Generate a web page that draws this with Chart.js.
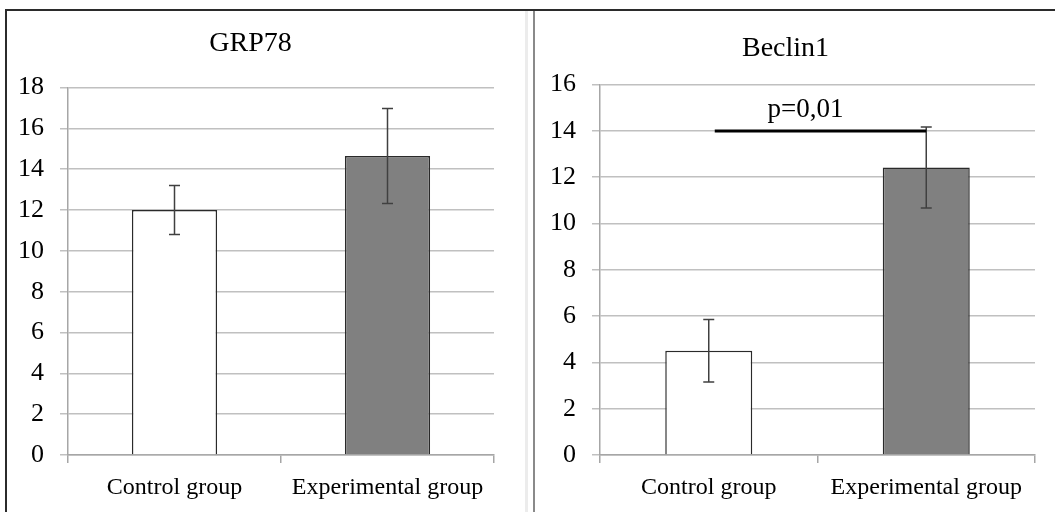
<!DOCTYPE html>
<html>
<head>
<meta charset="utf-8">
<script src="https://cdn.jsdelivr.net/npm/chart.js@4.4.0/dist/chart.umd.min.js"></script>
<style>
  body { margin: 0; background: #fff; width: 1055px; height: 512px; overflow: hidden; position: relative; }
  .line { position: absolute; }
  #frameTop { left: 5px; top: 9px; width: 1050px; height: 2px; background: #2b2b2b; }
  #frameLeft { left: 5px; top: 9px; width: 2px; height: 503px; background: #2b2b2b; }
  #frameSplit { left: 525px; top: 11px; width: 3px; height: 501px; background: #ececec; }
  #frameRight { left: 533px; top: 11px; width: 2px; height: 501px; background: #8a8a8a; }
  .panel { position: absolute; top: 12px; }
  #panel1 { left: 7px; }
  #panel2 { left: 536px; }
</style>
</head>
<body>
<div class="line" id="frameTop"></div>
<div class="line" id="frameLeft"></div>
<div class="line" id="frameSplit"></div>
<div class="line" id="frameRight"></div>
<div class="panel" id="panel1"><canvas id="grpChart" width="511" height="500"></canvas></div>
<div class="panel" id="panel2"><canvas id="beclinChart" width="519" height="500"></canvas></div>
<script>
const categories = ['Control group', 'Experimental group'];

const grpMean = [12.0, 14.65];
const grpErr = [1.2, 2.33];

const beclinMean = [4.5, 12.42];
const beclinErr = [1.35, 1.75];

// significance bracket on Beclin1: between the two groups at 14
const sigPair = [0, 1];
const sigLevel = 14;
const sigText = 'p=0,01';

const serif = '"Liberation Serif", "Times New Roman", serif';
const barFills = ['#ffffff', '#808080'];

const errorBars = {
  id: 'errorBars',
  afterDatasetsDraw(chart, args, opts) {
    const meta = chart.getDatasetMeta(0);
    const y = chart.scales.y;
    const ctx = chart.ctx;
    ctx.save();
    ctx.strokeStyle = '#404040';
    ctx.lineWidth = 1.5;
    meta.data.forEach((bar, i) => {
      const v = chart.data.datasets[0].data[i];
      const top = y.getPixelForValue(v + opts.errors[i]);
      const bot = y.getPixelForValue(v - opts.errors[i]);
      ctx.beginPath();
      ctx.moveTo(bar.x, top); ctx.lineTo(bar.x, bot);
      ctx.moveTo(bar.x - 5.5, top); ctx.lineTo(bar.x + 5.5, top);
      ctx.moveTo(bar.x - 5.5, bot); ctx.lineTo(bar.x + 5.5, bot);
      ctx.stroke();
    });
    ctx.restore();
  }
};

const sigMark = {
  id: 'sigMark',
  afterDatasetsDraw(chart, args, opts) {
    if (!opts.text) return;
    const x = chart.scales.x, y = chart.scales.y;
    const ctx = chart.ctx;
    const x0 = x.getPixelForValue(opts.pair[0]) + 6;
    const x1 = x.getPixelForValue(opts.pair[1]);
    const yy = y.getPixelForValue(opts.level);
    ctx.save();
    ctx.strokeStyle = '#000';
    ctx.lineWidth = 3;
    ctx.beginPath();
    ctx.moveTo(x0, yy); ctx.lineTo(x1, yy);
    ctx.stroke();
    ctx.fillStyle = '#000';
    ctx.font = '27px ' + serif;
    ctx.textAlign = 'center';
    ctx.textBaseline = 'alphabetic';
    ctx.fillText(opts.text, (x0 + x1) / 2 - 15, yy - 14);
    ctx.restore();
  }
};

function makeChart(id, title, means, errs, max, layout, sig) {
  return new Chart(document.getElementById(id), {
    type: 'bar',
    data: {
      labels: categories,
      datasets: [{
        data: means,
        backgroundColor: barFills,
        borderColor: '#2a2a2a',
        borderWidth: 1.5,
        barPercentage: 0.4,
        categoryPercentage: 1.0
      }]
    },
    options: {
      responsive: false,
      animation: false,
      layout: { padding: { left: 0, right: layout.right, top: 0, bottom: 0 } },
      plugins: {
        legend: { display: false },
        tooltip: { enabled: false },
        title: {
          display: true,
          text: title,
          color: '#000',
          font: { family: serif, size: 28, weight: 'normal' },
          padding: { top: layout.titleTop, bottom: layout.titleBottom }
        },
        errorBars: { errors: errs },
        sigMark: sig || {}
      },
      scales: {
        x: {
          afterFit: s => { s.height = 57; },
          grid: { offset: true, drawOnChartArea: false, tickLength: 8, color: '#a6a6a6', lineWidth: 1.5 },
          border: { color: '#a6a6a6', width: 1.5 },
          ticks: { color: '#000', padding: 10, font: { family: serif, size: 24 } }
        },
        y: {
          min: 0, max: max,
          afterFit: s => { s.width = layout.yWidth; },
          grid: { color: '#c0c0c0', lineWidth: 1.5, tickLength: 8 },
          border: { color: '#a6a6a6', width: 1.5 },
          ticks: { stepSize: 2, color: '#000', padding: 16, font: { family: serif, size: 26 } }
        }
      }
    },
    plugins: [errorBars, sigMark]
  });
}

makeChart('grpChart', 'GRP78', grpMean, grpErr, 18,
  { right: 24, yWidth: 61, titleTop: 15, titleBottom: 27 });
makeChart('beclinChart', 'Beclin1', beclinMean, beclinErr, 16,
  { right: 20, yWidth: 64, titleTop: 20, titleBottom: 19 },
  { pair: sigPair, level: sigLevel, text: sigText });
</script>
</body>
</html>
